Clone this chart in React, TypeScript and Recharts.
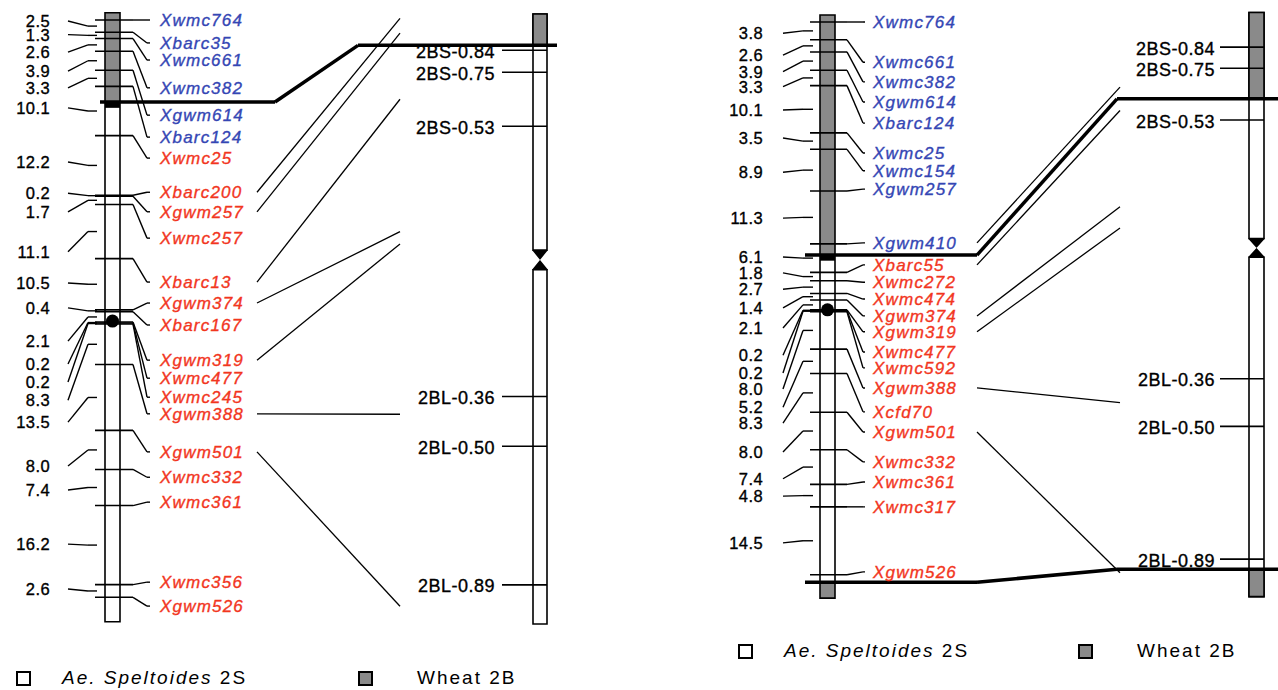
import React from 'react';
import { ScatterChart, Scatter, XAxis, YAxis, ReferenceLine, ReferenceArea, ReferenceDot } from 'recharts';

const W = 1278;
const H = 690;
const GRAY = '#8a8a8a';
const BLUE = '#3446b4';
const RED = '#f2361e';
const INK = '#000';
const FONT = '"Liberation Sans", Arial, Helvetica, sans-serif';

// --- Ae. speltoides 2S x wheat map (left) ---
const leftMarkers = [
  'Xwmc764', 'Xbarc35', 'Xwmc661', 'Xwmc382', 'Xgwm614', 'Xbarc124', 'Xwmc25', 'Xbarc200',
  'Xgwm257', 'Xwmc257', 'Xbarc13', 'Xgwm374', 'Xbarc167', 'Xgwm319', 'Xwmc477', 'Xwmc245',
  'Xgwm388', 'Xgwm501', 'Xwmc332', 'Xwmc361', 'Xwmc356', 'Xgwm526',
];
const leftIntervals = [2.5, 1.3, 2.6, 3.9, 3.3, 10.1, 12.2, 0.2, 1.7, 11.1, 10.5, 0.4, 2.1, 0.2, 0.2, 8.3, 13.5, 8.0, 7.4, 16.2, 2.6];
// where each label ended up after spreading (cM)
const leftMarkerLabelAt = [0, 4.7, 8.2, 13.9, 19.5, 24.0, 28.3, 35.3, 39.3, 44.7, 53.7, 58.0, 62.5, 69.7, 73.4, 77.3, 80.7, 88.5, 93.7, 98.8, 115.2, 120.1];
const leftIntervalLabelAt = [0.2, 3.0, 6.6, 10.5, 13.9, 18.0, 29.1, 35.5, 39.3, 47.5, 53.9, 59.0, 65.8, 70.5, 74.2, 77.9, 82.4, 91.4, 96.3, 107.4, 116.6];
const leftCentromere = 61.7;
const leftBreaks = [{ cM: 16.8, arm: 'S', fl: 0.86 }];
const leftLinks: [string, string, number][] = [
  ['Xbarc200', 'S', 0.97], ['Xgwm257', 'S', 0.91], ['Xbarc13', 'S', 0.64], ['Xgwm374', 'S', 0.1],
  ['Xgwm319', 'S', 0.05], ['Xgwm388', 'L', 0.41], ['Xgwm501', 'L', 0.95],
];

// --- right map ---
const rightMarkers = [
  'Xwmc764', 'Xwmc661', 'Xwmc382', 'Xgwm614', 'Xbarc124', 'Xwmc25', 'Xwmc154', 'Xgwm257',
  'Xgwm410', 'Xbarc55', 'Xwmc272', 'Xwmc474', 'Xgwm374', 'Xgwm319', 'Xwmc477', 'Xwmc592',
  'Xgwm388', 'Xcfd70', 'Xgwm501', 'Xwmc332', 'Xwmc361', 'Xwmc317', 'Xgwm526',
];
const rightIntervals = [3.8, 2.6, 3.9, 3.3, 10.1, 3.5, 8.9, 11.3, 6.1, 1.8, 2.7, 1.4, 2.1, 0.2, 0.2, 8.0, 5.2, 8.3, 8.0, 7.4, 4.8, 14.5];
const rightMarkerLabelAt = [0, 8.6, 12.8, 17.1, 21.6, 28.0, 31.8, 35.7, 47.2, 51.9, 55.6, 59.2, 62.8, 66.2, 70.5, 73.9, 78.2, 83.3, 87.6, 94.0, 98.3, 103.6, 117.5];
const rightIntervalLabelAt = [2.4, 7.1, 10.6, 13.8, 18.8, 24.8, 32.1, 41.9, 50.2, 53.6, 57.1, 61.1, 65.4, 71.2, 75.0, 78.4, 82.3, 85.7, 91.9, 97.6, 101.3, 111.3];
const rightCentromere = 61.5;
const rightBreaks = [{ cM: 49.8, arm: 'S', fl: 0.62 }, { cM: 119.7, arm: 'L', fl: 0.92 }];
const rightLinks: [string, string, number][] = [
  ['Xgwm410', 'S', 0.67], ['Xbarc55', 'S', 0.57], ['Xgwm374', 'S', 0.16],
  ['Xgwm319', 'S', 0.07], ['Xgwm388', 'L', 0.43], ['Xgwm501', 'L', 0.93],
];

// --- wheat 2B deletion bins ---
const binNames = ['2BS-0.84', '2BS-0.75', '2BS-0.53', '2BL-0.36', '2BL-0.50', '2BL-0.89'];
const binArms = ['S', 'S', 'S', 'L', 'L', 'L'];
const binFL = [0.84, 0.75, 0.53, 0.36, 0.5, 0.89];

// relative arm lengths of 2B ideogram
const S_ARM = 0.4;
const CEN = 0.02;
const L_ARM = 0.58;
const armPos = (arm: string, fl: number) => (arm === 'S' ? S_ARM * (1 - fl) : S_ARM + CEN + L_ARM * fl);

const leftLayout = {
  mapId: 'mapL', delId: 'delL', mapTop: 20, mapScale: 4.88, delTop: 11, delScale: 613,
  bar: [105, 120], tick0: 95, tick1: 133, bend: 147, tickEnd: 150, labelX: 160,
  numRight: 50, num: [68, 88, 97], brk: [100, 275, 358, 557], link: [257, 400],
  delBar: [533, 547], delTick0: 502, delLabelRight: 495,
};
const rightLayout = {
  mapId: 'mapR', delId: 'delR', mapTop: 22, mapScale: 4.68, delTop: 9.6, delScale: 587,
  bar: [820, 835], tick0: 810, tick1: 847, bend: 863, tickEnd: 865, labelX: 873,
  numRight: 763, num: [783, 803, 813], brk: [805, 977, 1117, 1278], link: [977, 1120],
  delBar: [1249, 1264], delTick0: 1220, delLabelRight: 1215,
};
type Layout = typeof leftLayout;

const cumulative = (intervals: number[]) => {
  const out = [0];
  intervals.forEach((d) => out.push(Math.round((out[out.length - 1] + d) * 10) / 10));
  return out;
};

const seg = (key: string, axis: string, x1: number, y1: number, x2: number, y2: number, w = 1.4) => (
  <ReferenceLine
    key={key}
    yAxisId={axis}
    segment={[{ x: x1, y: y1 }, { x: x2, y: y2 }]}
    stroke="#000"
    strokeWidth={w}
    ifOverflow="visible"
  />
);

const box = (key: string, axis: string, x1: number, x2: number, y1: number, y2: number, fill: string) => (
  <ReferenceArea
    key={key}
    yAxisId={axis}
    x1={x1}
    x2={x2}
    y1={y1}
    y2={y2}
    fill={fill}
    fillOpacity={1}
    stroke="#000"
    strokeWidth={1.6}
    ifOverflow="visible"
  />
);

const textShape = (anchor: 'start' | 'end', size: number, italic: boolean, spacing: number, dy = '0.36em') =>
  function TextMark(props: any) {
    const { cx, cy, payload } = props;
    return (
      <text
        x={cx}
        y={cy}
        dy={dy}
        textAnchor={anchor}
        fill={payload.color}
        stroke={payload.color}
        strokeWidth={0.35}
        fontSize={size}
        fontStyle={italic ? 'italic' : 'normal'}
        letterSpacing={spacing}
        fontFamily={FONT}
      >
        {payload.text}
      </text>
    );
  };

const markerText = textShape('start', 17, true, 1.2);
const numberText = textShape('end', 16.5, false, 0.4);
const binText = textShape('end', 18, false, 0.5, '0.42em');

function buildPanel(
  markers: string[],
  intervals: number[],
  markerLabelAt: number[],
  intervalLabelAt: number[],
  centromere: number,
  breaks: { cM: number; arm: string; fl: number }[],
  links: [string, string, number][],
  L: Layout,
) {
  const out: React.ReactNode[] = [];
  const k = L.mapId;
  const cum = cumulative(intervals);
  const last = cum[cum.length - 1];
  const delToMap = (pos: number) => (L.delTop + L.delScale * pos - L.mapTop) / L.mapScale;
  const wheatAt = (c: number) => breaks.filter((b) => c > b.cM).length % 2 === 0;

  // genetic map bar
  const mapEdges = [-1.5, ...breaks.map((b) => b.cM), last + 5];
  for (let i = 0; i < mapEdges.length - 1; i++) {
    out.push(box(`${k}-bar${i}`, L.mapId, L.bar[0], L.bar[1], mapEdges[i], mapEdges[i + 1], i % 2 === 0 ? GRAY : '#fff'));
  }
  out.push(
    <ReferenceArea key={`${k}-band`} yAxisId={L.mapId} x1={L.bar[0]} x2={L.bar[1]} y1={breaks[0].cM} y2={breaks[0].cM + 1.2}
      fill="#000" fillOpacity={1} ifOverflow="visible" />,
  );

  // deletion-bin ideogram
  out.push(box(`${k}-sarm`, L.delId, L.delBar[0], L.delBar[1], 0.005, 0.39, '#fff'));
  out.push(box(`${k}-larm`, L.delId, L.delBar[0], L.delBar[1], 0.422, 1, '#fff'));
  const delEdges = [0.005, ...breaks.map((b) => armPos(b.arm, b.fl)), 1];
  for (let i = 0; i < delEdges.length - 1; i += 2) {
    out.push(box(`${k}-dg${i}`, L.delId, L.delBar[0], L.delBar[1], delEdges[i], delEdges[i + 1], GRAY));
  }
  out.push(
    <ReferenceArea
      key={`${k}-cen2`}
      yAxisId={L.delId}
      x1={L.delBar[0] - 1}
      x2={L.delBar[1] + 1}
      y1={0.39}
      y2={0.422}
      ifOverflow="visible"
      shape={(p: any) => (
        <path
          d={`M${p.x},${p.y}L${p.x + p.width},${p.y}L${p.x},${p.y + p.height}L${p.x + p.width},${p.y + p.height}Z`}
          fill="#000"
        />
      )}
    />,
  );
  binNames.forEach((_, i) => {
    const pos = armPos(binArms[i], binFL[i]);
    out.push(seg(`${k}-bt${i}`, L.delId, L.delTick0, pos, L.delBar[1], pos, 1.6));
  });

  // marker ticks + label leaders
  markers.forEach((_, i) => {
    const c = cum[i];
    const lc = markerLabelAt[i];
    out.push(seg(`${k}-t${i}`, L.mapId, L.tick0, c, L.tick1, c, 1.6));
    out.push(seg(`${k}-ta${i}`, L.mapId, L.tick1, c, L.bend, lc));
    out.push(seg(`${k}-tb${i}`, L.mapId, L.bend, lc, L.tickEnd, lc));
  });

  // interval leaders
  intervals.forEach((_, i) => {
    const mid = (cum[i] + cum[i + 1]) / 2;
    const lc = intervalLabelAt[i];
    out.push(seg(`${k}-na${i}`, L.mapId, L.num[0], lc, L.num[1], mid));
    out.push(seg(`${k}-nb${i}`, L.mapId, L.num[1], mid, L.num[2], mid));
  });

  out.push(
    <ReferenceDot key={`${k}-cen`} yAxisId={L.mapId} x={(L.bar[0] + L.bar[1]) / 2} y={centromere} r={6.5}
      fill="#000" stroke="none" ifOverflow="visible" />,
  );

  // translocation breakpoints
  breaks.forEach((b, i) => {
    const dp = armPos(b.arm, b.fl);
    out.push(seg(`${k}-br${i}a`, L.mapId, L.brk[0], b.cM, L.brk[1], b.cM, 3.5));
    out.push(seg(`${k}-br${i}b`, L.mapId, L.brk[1], b.cM, L.brk[2], delToMap(dp), 3.5));
    out.push(seg(`${k}-br${i}c`, L.delId, L.brk[2], dp, L.brk[3], dp, 3.5));
  });

  // marker -> deletion bin links
  links.forEach(([name, arm, fl], i) => {
    const lc = markerLabelAt[markers.indexOf(name)];
    out.push(seg(`${k}-lk${i}`, L.mapId, L.link[0], lc, L.link[1], delToMap(armPos(arm, fl)), 1.3));
  });

  const markerData = markers.map((m, i) => ({
    x: L.labelX, y: markerLabelAt[i], text: m, color: wheatAt(cum[i]) ? BLUE : RED,
  }));
  const numberData = intervals.map((d, i) => ({
    x: L.numRight, y: intervalLabelAt[i], text: d.toFixed(1), color: INK,
  }));
  const binData = binNames.map((n, i) => ({
    x: L.delLabelRight, y: armPos(binArms[i], binFL[i]), text: n, color: INK,
  }));
  out.push(<Scatter key={`${k}-ml`} yAxisId={L.mapId} data={markerData} shape={markerText} isAnimationActive={false} />);
  out.push(<Scatter key={`${k}-nl`} yAxisId={L.mapId} data={numberData} shape={numberText} isAnimationActive={false} />);
  out.push(<Scatter key={`${k}-bl`} yAxisId={L.delId} data={binData} shape={binText} isAnimationActive={false} />);
  return out;
}

const domainFor = (top: number, scale: number): [number, number] => [-top / scale, (H - top) / scale];

const legendItems = [
  { label: 'Ae. Speltoides', tail: '2S', fill: '#fff', italic: true },
  { label: 'Wheat', tail: '2B', fill: GRAY, italic: false },
];

function Legend({ x, y, gap }: { x: number; y: number; gap: number }) {
  return (
    <>
      {legendItems.map((it, i) => (
        <div key={it.label} style={{ position: 'absolute', left: x + i * gap, top: y - 10, height: 20, display: 'flex', alignItems: 'center' }}>
          <div style={{ width: 11, height: 11, border: '2px solid #000', background: it.fill }} />
          <span
            style={{
              marginLeft: it.italic ? 31 : 44,
              fontFamily: FONT,
              fontSize: 19,
              letterSpacing: 2,
              color: INK,
              whiteSpace: 'nowrap',
            }}
          >
            <span style={{ fontStyle: it.italic ? 'italic' : 'normal' }}>{it.label}</span> {it.tail}
          </span>
        </div>
      ))}
    </>
  );
}

export default function App() {
  return (
    <div style={{ position: 'absolute', left: 0, top: 0, width: W, height: H, background: '#fff', overflow: 'hidden' }}>
      <ScatterChart width={W} height={H} margin={{ top: 0, right: 0, bottom: 0, left: 0 }}>
        <XAxis type="number" dataKey="x" domain={[0, W]} hide height={0} allowDataOverflow />
        <YAxis yAxisId="mapL" type="number" dataKey="y" domain={domainFor(leftLayout.mapTop, leftLayout.mapScale)} reversed hide width={0} allowDataOverflow />
        <YAxis yAxisId="mapR" type="number" dataKey="y" domain={domainFor(rightLayout.mapTop, rightLayout.mapScale)} reversed hide width={0} allowDataOverflow />
        <YAxis yAxisId="delL" type="number" dataKey="y" domain={domainFor(leftLayout.delTop, leftLayout.delScale)} reversed hide width={0} allowDataOverflow />
        <YAxis yAxisId="delR" type="number" dataKey="y" domain={domainFor(rightLayout.delTop, rightLayout.delScale)} reversed hide width={0} allowDataOverflow />
        {buildPanel(leftMarkers, leftIntervals, leftMarkerLabelAt, leftIntervalLabelAt, leftCentromere, leftBreaks, leftLinks, leftLayout)}
        {buildPanel(rightMarkers, rightIntervals, rightMarkerLabelAt, rightIntervalLabelAt, rightCentromere, rightBreaks, rightLinks, rightLayout)}
      </ScatterChart>
      <Legend x={16} y={678} gap={342} />
      <Legend x={738} y={651} gap={340} />
    </div>
  );
}
